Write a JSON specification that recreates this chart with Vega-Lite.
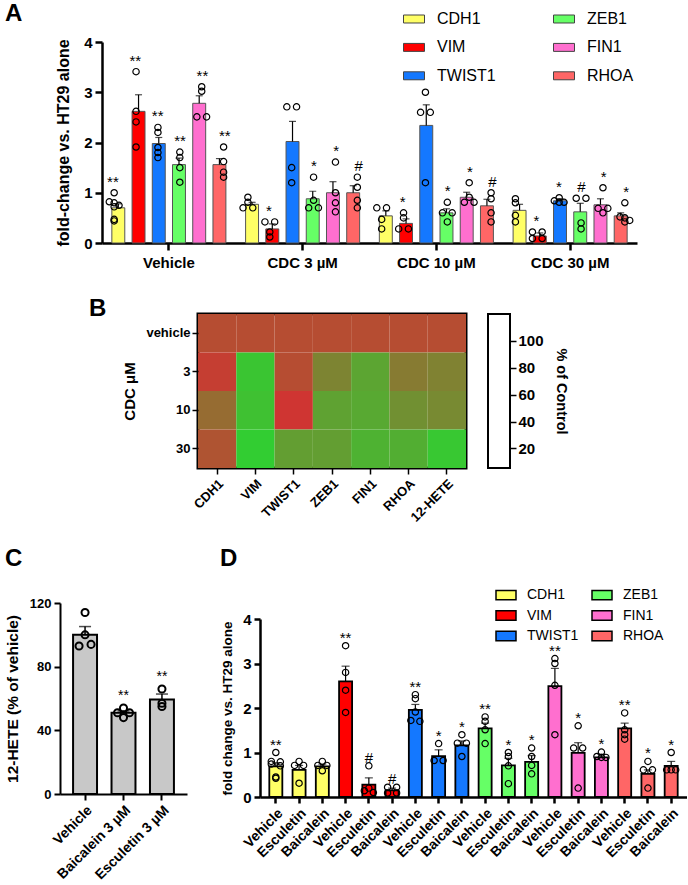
{
 "$schema": "https://vega.github.io/schema/vega-lite/v6.json",
 "background": "white",
 "padding": {"left": 5, "top": 2, "right": 0, "bottom": 0},
 "config": {
  "font": "Liberation Sans",
  "view": {"stroke": null},
  "axis": {"labelColor": "black", "titleColor": "black", "domainColor": "black", "tickColor": "black", "grid": false, "labelFontWeight": "bold", "titleFontWeight": "bold", "labelFont": "Liberation Sans", "titleFont": "Liberation Sans"},
  "title": {"color": "black", "font": "Liberation Sans"},
  "legend": {"labelColor": "black", "labelFont": "Liberation Sans"}
 },
 "datasets": {
  "A": [
   {"group": "Vehicle", "gene": "CDH1", "mean": 0.70, "sem": 0.08, "sig": "**"},
   {"group": "Vehicle", "gene": "VIM", "mean": 2.62, "sem": 0.33, "sig": "**"},
   {"group": "Vehicle", "gene": "TWIST1", "mean": 1.98, "sem": 0.12, "sig": "**"},
   {"group": "Vehicle", "gene": "ZEB1", "mean": 1.56, "sem": 0.13, "sig": "**"},
   {"group": "Vehicle", "gene": "FIN1", "mean": 2.78, "sem": 0.15, "sig": "**"},
   {"group": "Vehicle", "gene": "RHOA", "mean": 1.56, "sem": 0.12, "sig": "**"},
   {"group": "CDC 3 µM", "gene": "CDH1", "mean": 0.77, "sem": 0.04, "sig": ""},
   {"group": "CDC 3 µM", "gene": "VIM", "mean": 0.28, "sem": 0.10, "sig": "*"},
   {"group": "CDC 3 µM", "gene": "TWIST1", "mean": 2.02, "sem": 0.40, "sig": ""},
   {"group": "CDC 3 µM", "gene": "ZEB1", "mean": 0.88, "sem": 0.15, "sig": "*"},
   {"group": "CDC 3 µM", "gene": "FIN1", "mean": 1.00, "sem": 0.22, "sig": "*"},
   {"group": "CDC 3 µM", "gene": "RHOA", "mean": 1.00, "sem": 0.14, "sig": "#"},
   {"group": "CDC 10 µM", "gene": "CDH1", "mean": 0.54, "sem": 0.10, "sig": ""},
   {"group": "CDC 10 µM", "gene": "VIM", "mean": 0.39, "sem": 0.09, "sig": "*"},
   {"group": "CDC 10 µM", "gene": "TWIST1", "mean": 2.34, "sem": 0.41, "sig": ""},
   {"group": "CDC 10 µM", "gene": "ZEB1", "mean": 0.60, "sem": 0.08, "sig": "*"},
   {"group": "CDC 10 µM", "gene": "FIN1", "mean": 0.91, "sem": 0.10, "sig": "*"},
   {"group": "CDC 10 µM", "gene": "RHOA", "mean": 0.74, "sem": 0.13, "sig": "#"},
   {"group": "CDC 30 µM", "gene": "CDH1", "mean": 0.65, "sem": 0.12, "sig": ""},
   {"group": "CDC 30 µM", "gene": "VIM", "mean": 0.14, "sem": 0.06, "sig": "*"},
   {"group": "CDC 30 µM", "gene": "TWIST1", "mean": 0.84, "sem": 0.04, "sig": "*"},
   {"group": "CDC 30 µM", "gene": "ZEB1", "mean": 0.62, "sem": 0.17, "sig": "#"},
   {"group": "CDC 30 µM", "gene": "FIN1", "mean": 0.76, "sem": 0.12, "sig": "*"},
   {"group": "CDC 30 µM", "gene": "RHOA", "mean": 0.54, "sem": 0.06, "sig": "*"},
   {"group": "Vehicle", "gene": "CDH1", "v": 1.0}, {"group": "Vehicle", "gene": "CDH1", "v": 0.82}, {"group": "Vehicle", "gene": "CDH1", "v": 0.80}, {"group": "Vehicle", "gene": "CDH1", "v": 0.75}, {"group": "Vehicle", "gene": "CDH1", "v": 0.72}, {"group": "Vehicle", "gene": "CDH1", "v": 0.47}, {"group": "Vehicle", "gene": "CDH1", "v": 0.44},
   {"group": "Vehicle", "gene": "VIM", "v": 3.41}, {"group": "Vehicle", "gene": "VIM", "v": 2.62}, {"group": "Vehicle", "gene": "VIM", "v": 2.41}, {"group": "Vehicle", "gene": "VIM", "v": 1.91},
   {"group": "Vehicle", "gene": "TWIST1", "v": 2.30}, {"group": "Vehicle", "gene": "TWIST1", "v": 2.20}, {"group": "Vehicle", "gene": "TWIST1", "v": 1.90}, {"group": "Vehicle", "gene": "TWIST1", "v": 1.80}, {"group": "Vehicle", "gene": "TWIST1", "v": 1.70},
   {"group": "Vehicle", "gene": "ZEB1", "v": 1.81}, {"group": "Vehicle", "gene": "ZEB1", "v": 1.70}, {"group": "Vehicle", "gene": "ZEB1", "v": 1.50}, {"group": "Vehicle", "gene": "ZEB1", "v": 1.21},
   {"group": "Vehicle", "gene": "FIN1", "v": 3.11}, {"group": "Vehicle", "gene": "FIN1", "v": 3.02}, {"group": "Vehicle", "gene": "FIN1", "v": 2.51}, {"group": "Vehicle", "gene": "FIN1", "v": 2.51},
   {"group": "Vehicle", "gene": "RHOA", "v": 1.91}, {"group": "Vehicle", "gene": "RHOA", "v": 1.62}, {"group": "Vehicle", "gene": "RHOA", "v": 1.41}, {"group": "Vehicle", "gene": "RHOA", "v": 1.31},
   {"group": "CDC 3 µM", "gene": "CDH1", "v": 0.91}, {"group": "CDC 3 µM", "gene": "CDH1", "v": 0.81}, {"group": "CDC 3 µM", "gene": "CDH1", "v": 0.70}, {"group": "CDC 3 µM", "gene": "CDH1", "v": 0.70},
   {"group": "CDC 3 µM", "gene": "VIM", "v": 0.42}, {"group": "CDC 3 µM", "gene": "VIM", "v": 0.42}, {"group": "CDC 3 µM", "gene": "VIM", "v": 0.22}, {"group": "CDC 3 µM", "gene": "VIM", "v": 0.12},
   {"group": "CDC 3 µM", "gene": "TWIST1", "v": 2.71}, {"group": "CDC 3 µM", "gene": "TWIST1", "v": 2.71}, {"group": "CDC 3 µM", "gene": "TWIST1", "v": 1.50}, {"group": "CDC 3 µM", "gene": "TWIST1", "v": 1.20},
   {"group": "CDC 3 µM", "gene": "ZEB1", "v": 1.31}, {"group": "CDC 3 µM", "gene": "ZEB1", "v": 0.85}, {"group": "CDC 3 µM", "gene": "ZEB1", "v": 0.70}, {"group": "CDC 3 µM", "gene": "ZEB1", "v": 0.70},
   {"group": "CDC 3 µM", "gene": "FIN1", "v": 1.61}, {"group": "CDC 3 µM", "gene": "FIN1", "v": 1.00}, {"group": "CDC 3 µM", "gene": "FIN1", "v": 0.80}, {"group": "CDC 3 µM", "gene": "FIN1", "v": 0.62},
   {"group": "CDC 3 µM", "gene": "RHOA", "v": 1.31}, {"group": "CDC 3 µM", "gene": "RHOA", "v": 1.11}, {"group": "CDC 3 µM", "gene": "RHOA", "v": 0.85}, {"group": "CDC 3 µM", "gene": "RHOA", "v": 0.70},
   {"group": "CDC 10 µM", "gene": "CDH1", "v": 0.70}, {"group": "CDC 10 µM", "gene": "CDH1", "v": 0.70}, {"group": "CDC 10 µM", "gene": "CDH1", "v": 0.47}, {"group": "CDC 10 µM", "gene": "CDH1", "v": 0.28},
   {"group": "CDC 10 µM", "gene": "VIM", "v": 0.60}, {"group": "CDC 10 µM", "gene": "VIM", "v": 0.50}, {"group": "CDC 10 µM", "gene": "VIM", "v": 0.28}, {"group": "CDC 10 µM", "gene": "VIM", "v": 0.28},
   {"group": "CDC 10 µM", "gene": "TWIST1", "v": 3.00}, {"group": "CDC 10 µM", "gene": "TWIST1", "v": 2.60}, {"group": "CDC 10 µM", "gene": "TWIST1", "v": 2.60}, {"group": "CDC 10 µM", "gene": "TWIST1", "v": 1.20},
   {"group": "CDC 10 µM", "gene": "ZEB1", "v": 0.81}, {"group": "CDC 10 µM", "gene": "ZEB1", "v": 0.60}, {"group": "CDC 10 µM", "gene": "ZEB1", "v": 0.60}, {"group": "CDC 10 µM", "gene": "ZEB1", "v": 0.42},
   {"group": "CDC 10 µM", "gene": "FIN1", "v": 1.20}, {"group": "CDC 10 µM", "gene": "FIN1", "v": 0.91}, {"group": "CDC 10 µM", "gene": "FIN1", "v": 0.81}, {"group": "CDC 10 µM", "gene": "FIN1", "v": 0.81},
   {"group": "CDC 10 µM", "gene": "RHOA", "v": 1.00}, {"group": "CDC 10 µM", "gene": "RHOA", "v": 0.88}, {"group": "CDC 10 µM", "gene": "RHOA", "v": 0.60}, {"group": "CDC 10 µM", "gene": "RHOA", "v": 0.42},
   {"group": "CDC 30 µM", "gene": "CDH1", "v": 0.88}, {"group": "CDC 30 µM", "gene": "CDH1", "v": 0.80}, {"group": "CDC 30 µM", "gene": "CDH1", "v": 0.55}, {"group": "CDC 30 µM", "gene": "CDH1", "v": 0.42},
   {"group": "CDC 30 µM", "gene": "VIM", "v": 0.22}, {"group": "CDC 30 µM", "gene": "VIM", "v": 0.22}, {"group": "CDC 30 µM", "gene": "VIM", "v": 0.09}, {"group": "CDC 30 µM", "gene": "VIM", "v": 0.09},
   {"group": "CDC 30 µM", "gene": "TWIST1", "v": 0.90}, {"group": "CDC 30 µM", "gene": "TWIST1", "v": 0.84}, {"group": "CDC 30 µM", "gene": "TWIST1", "v": 0.81}, {"group": "CDC 30 µM", "gene": "TWIST1", "v": 0.81},
   {"group": "CDC 30 µM", "gene": "ZEB1", "v": 0.89}, {"group": "CDC 30 µM", "gene": "ZEB1", "v": 0.89}, {"group": "CDC 30 µM", "gene": "ZEB1", "v": 0.40}, {"group": "CDC 30 µM", "gene": "ZEB1", "v": 0.28},
   {"group": "CDC 30 µM", "gene": "FIN1", "v": 1.10}, {"group": "CDC 30 µM", "gene": "FIN1", "v": 0.69}, {"group": "CDC 30 µM", "gene": "FIN1", "v": 0.69}, {"group": "CDC 30 µM", "gene": "FIN1", "v": 0.60},
   {"group": "CDC 30 µM", "gene": "RHOA", "v": 0.80}, {"group": "CDC 30 µM", "gene": "RHOA", "v": 0.52}, {"group": "CDC 30 µM", "gene": "RHOA", "v": 0.50}, {"group": "CDC 30 µM", "gene": "RHOA", "v": 0.45}, {"group": "CDC 30 µM", "gene": "RHOA", "v": 0.42}
  ],
  "B": [
   {"dose": "vehicle", "gene": "CDH1", "pct": 100}, {"dose": "vehicle", "gene": "VIM", "pct": 100}, {"dose": "vehicle", "gene": "TWIST1", "pct": 100}, {"dose": "vehicle", "gene": "ZEB1", "pct": 100}, {"dose": "vehicle", "gene": "FIN1", "pct": 100}, {"dose": "vehicle", "gene": "RHOA", "pct": 100}, {"dose": "vehicle", "gene": "12-HETE", "pct": 100},
   {"dose": "3", "gene": "CDH1", "pct": 111}, {"dose": "3", "gene": "VIM", "pct": 11}, {"dose": "3", "gene": "TWIST1", "pct": 100}, {"dose": "3", "gene": "ZEB1", "pct": 59}, {"dose": "3", "gene": "FIN1", "pct": 35}, {"dose": "3", "gene": "RHOA", "pct": 66}, {"dose": "3", "gene": "12-HETE", "pct": 61},
   {"dose": "10", "gene": "CDH1", "pct": 77}, {"dose": "10", "gene": "VIM", "pct": 14}, {"dose": "10", "gene": "TWIST1", "pct": 118}, {"dose": "10", "gene": "ZEB1", "pct": 37}, {"dose": "10", "gene": "FIN1", "pct": 32}, {"dose": "10", "gene": "RHOA", "pct": 50}, {"dose": "10", "gene": "12-HETE", "pct": 55},
   {"dose": "30", "gene": "CDH1", "pct": 95}, {"dose": "30", "gene": "VIM", "pct": 5}, {"dose": "30", "gene": "TWIST1", "pct": 40}, {"dose": "30", "gene": "ZEB1", "pct": 40}, {"dose": "30", "gene": "FIN1", "pct": 25}, {"dose": "30", "gene": "RHOA", "pct": 28}, {"dose": "30", "gene": "12-HETE", "pct": 9}
  ],
  "C": [
   {"trt": "Vehicle", "mean": 100, "sem": 5.2, "sig": ""},
   {"trt": "Baicalein 3 µM", "mean": 51, "sem": 1.2, "sig": "**"},
   {"trt": "Esculetin 3 µM", "mean": 59.3, "sem": 3.5, "sig": "**"},
   {"trt": "Vehicle", "v": 114}, {"trt": "Vehicle", "v": 100}, {"trt": "Vehicle", "v": 93}, {"trt": "Vehicle", "v": 94},
   {"trt": "Baicalein 3 µM", "v": 54}, {"trt": "Baicalein 3 µM", "v": 48}, {"trt": "Baicalein 3 µM", "v": 51}, {"trt": "Baicalein 3 µM", "v": 51},
   {"trt": "Esculetin 3 µM", "v": 66}, {"trt": "Esculetin 3 µM", "v": 57}, {"trt": "Esculetin 3 µM", "v": 55}
  ],
  "D": [
   {"gene": "CDH1", "trt": "Vehicle", "mean": 0.69, "sem": 0.08, "sig": "**"},
   {"gene": "CDH1", "trt": "Esculetin", "mean": 0.61, "sem": 0.10, "sig": ""},
   {"gene": "CDH1", "trt": "Baicalein", "mean": 0.69, "sem": 0.05, "sig": ""},
   {"gene": "VIM", "trt": "Vehicle", "mean": 2.60, "sem": 0.34, "sig": "**"},
   {"gene": "VIM", "trt": "Esculetin", "mean": 0.28, "sem": 0.15, "sig": "#"},
   {"gene": "VIM", "trt": "Baicalein", "mean": 0.15, "sem": 0.05, "sig": "#"},
   {"gene": "TWIST1", "trt": "Vehicle", "mean": 1.96, "sem": 0.12, "sig": "**"},
   {"gene": "TWIST1", "trt": "Esculetin", "mean": 0.92, "sem": 0.14, "sig": "*"},
   {"gene": "TWIST1", "trt": "Baicalein", "mean": 1.16, "sem": 0.10, "sig": "*"},
   {"gene": "ZEB1", "trt": "Vehicle", "mean": 1.54, "sem": 0.12, "sig": "**"},
   {"gene": "ZEB1", "trt": "Esculetin", "mean": 0.71, "sem": 0.16, "sig": "*"},
   {"gene": "ZEB1", "trt": "Baicalein", "mean": 0.79, "sem": 0.14, "sig": "*"},
   {"gene": "FIN1", "trt": "Vehicle", "mean": 2.49, "sem": 0.40, "sig": "**"},
   {"gene": "FIN1", "trt": "Esculetin", "mean": 0.99, "sem": 0.23, "sig": "*"},
   {"gene": "FIN1", "trt": "Baicalein", "mean": 0.89, "sem": 0.07, "sig": "*"},
   {"gene": "RHOA", "trt": "Vehicle", "mean": 1.54, "sem": 0.12, "sig": "**"},
   {"gene": "RHOA", "trt": "Esculetin", "mean": 0.52, "sem": 0.09, "sig": "*"},
   {"gene": "RHOA", "trt": "Baicalein", "mean": 0.70, "sem": 0.10, "sig": "*"},
   {"gene": "CDH1", "trt": "Vehicle", "v": 1.0}, {"gene": "CDH1", "trt": "Vehicle", "v": 0.80}, {"gene": "CDH1", "trt": "Vehicle", "v": 0.79}, {"gene": "CDH1", "trt": "Vehicle", "v": 0.74}, {"gene": "CDH1", "trt": "Vehicle", "v": 0.70}, {"gene": "CDH1", "trt": "Vehicle", "v": 0.45}, {"gene": "CDH1", "trt": "Vehicle", "v": 0.42},
   {"gene": "CDH1", "trt": "Esculetin", "v": 0.80}, {"gene": "CDH1", "trt": "Esculetin", "v": 0.71}, {"gene": "CDH1", "trt": "Esculetin", "v": 0.71}, {"gene": "CDH1", "trt": "Esculetin", "v": 0.31},
   {"gene": "CDH1", "trt": "Baicalein", "v": 0.80}, {"gene": "CDH1", "trt": "Baicalein", "v": 0.71}, {"gene": "CDH1", "trt": "Baicalein", "v": 0.71}, {"gene": "CDH1", "trt": "Baicalein", "v": 0.59},
   {"gene": "VIM", "trt": "Vehicle", "v": 3.40}, {"gene": "VIM", "trt": "Vehicle", "v": 2.80}, {"gene": "VIM", "trt": "Vehicle", "v": 2.40}, {"gene": "VIM", "trt": "Vehicle", "v": 1.90},
   {"gene": "VIM", "trt": "Esculetin", "v": 0.70}, {"gene": "VIM", "trt": "Esculetin", "v": 0.20}, {"gene": "VIM", "trt": "Esculetin", "v": 0.14}, {"gene": "VIM", "trt": "Esculetin", "v": 0.10},
   {"gene": "VIM", "trt": "Baicalein", "v": 0.22}, {"gene": "VIM", "trt": "Baicalein", "v": 0.22}, {"gene": "VIM", "trt": "Baicalein", "v": 0.09}, {"gene": "VIM", "trt": "Baicalein", "v": 0.09},
   {"gene": "TWIST1", "trt": "Vehicle", "v": 2.30}, {"gene": "TWIST1", "trt": "Vehicle", "v": 2.21}, {"gene": "TWIST1", "trt": "Vehicle", "v": 1.91}, {"gene": "TWIST1", "trt": "Vehicle", "v": 1.72}, {"gene": "TWIST1", "trt": "Vehicle", "v": 1.70},
   {"gene": "TWIST1", "trt": "Esculetin", "v": 1.20}, {"gene": "TWIST1", "trt": "Esculetin", "v": 0.82}, {"gene": "TWIST1", "trt": "Esculetin", "v": 0.82},
   {"gene": "TWIST1", "trt": "Baicalein", "v": 1.40}, {"gene": "TWIST1", "trt": "Baicalein", "v": 1.21}, {"gene": "TWIST1", "trt": "Baicalein", "v": 1.21}, {"gene": "TWIST1", "trt": "Baicalein", "v": 0.91},
   {"gene": "ZEB1", "trt": "Vehicle", "v": 1.80}, {"gene": "ZEB1", "trt": "Vehicle", "v": 1.70}, {"gene": "ZEB1", "trt": "Vehicle", "v": 1.51}, {"gene": "ZEB1", "trt": "Vehicle", "v": 1.20},
   {"gene": "ZEB1", "trt": "Esculetin", "v": 1.00}, {"gene": "ZEB1", "trt": "Esculetin", "v": 0.91}, {"gene": "ZEB1", "trt": "Esculetin", "v": 0.70}, {"gene": "ZEB1", "trt": "Esculetin", "v": 0.30},
   {"gene": "ZEB1", "trt": "Baicalein", "v": 1.10}, {"gene": "ZEB1", "trt": "Baicalein", "v": 0.91}, {"gene": "ZEB1", "trt": "Baicalein", "v": 0.71}, {"gene": "ZEB1", "trt": "Baicalein", "v": 0.52},
   {"gene": "FIN1", "trt": "Vehicle", "v": 3.11}, {"gene": "FIN1", "trt": "Vehicle", "v": 3.00}, {"gene": "FIN1", "trt": "Vehicle", "v": 2.51}, {"gene": "FIN1", "trt": "Vehicle", "v": 1.40},
   {"gene": "FIN1", "trt": "Esculetin", "v": 1.60}, {"gene": "FIN1", "trt": "Esculetin", "v": 1.10}, {"gene": "FIN1", "trt": "Esculetin", "v": 1.10}, {"gene": "FIN1", "trt": "Esculetin", "v": 0.20},
   {"gene": "FIN1", "trt": "Baicalein", "v": 1.01}, {"gene": "FIN1", "trt": "Baicalein", "v": 0.91}, {"gene": "FIN1", "trt": "Baicalein", "v": 0.89}, {"gene": "FIN1", "trt": "Baicalein", "v": 0.89},
   {"gene": "RHOA", "trt": "Vehicle", "v": 1.89}, {"gene": "RHOA", "trt": "Vehicle", "v": 1.51}, {"gene": "RHOA", "trt": "Vehicle", "v": 1.40}, {"gene": "RHOA", "trt": "Vehicle", "v": 1.30},
   {"gene": "RHOA", "trt": "Esculetin", "v": 0.80}, {"gene": "RHOA", "trt": "Esculetin", "v": 0.61}, {"gene": "RHOA", "trt": "Esculetin", "v": 0.61}, {"gene": "RHOA", "trt": "Esculetin", "v": 0.20},
   {"gene": "RHOA", "trt": "Baicalein", "v": 1.00}, {"gene": "RHOA", "trt": "Baicalein", "v": 0.61}, {"gene": "RHOA", "trt": "Baicalein", "v": 0.61}, {"gene": "RHOA", "trt": "Baicalein", "v": 0.61}
  ]
 },
 "resolve": {"scale": {"color": "independent"}, "legend": {"color": "independent"}},
 "columns": 1,
 "align": "none",
 "spacing": 25,
 "concat": [
  {
   "width": 577, "height": 201,
   "title": {"text": "A", "anchor": "start", "frame": "group", "dx": -55, "fontSize": 24, "fontWeight": "bold", "offset": -18},
   "data": {"name": "A"},
   "encoding": {
    "x": {"field": "group", "type": "nominal", "scale": {"domain": ["Vehicle", "CDC 3 µM", "CDC 10 µM", "CDC 30 µM"], "range": [42, 577], "paddingInner": 0, "paddingOuter": 0}, "axis": {"title": null, "labelAngle": 0, "labelFontSize": 15, "domainWidth": 2.5, "tickWidth": 2.5, "tickSize": 7, "labelPadding": 5}}
   },
   "resolve": {"scale": {"xOffset": "independent"}},
   "layer": [
    {
     "transform": [{"filter": "isValid(datum.mean)"}],
     "mark": {"type": "bar", "stroke": "#555", "strokeWidth": 1},
     "encoding": {
      "xOffset": {"field": "gene", "type": "nominal", "scale": {"domain": ["CDH1", "VIM", "TWIST1", "ZEB1", "FIN1", "RHOA"], "paddingInner": 0.36, "paddingOuter": 0.487}},
      "y": {"field": "mean", "type": "quantitative", "scale": {"domain": [0, 4], "nice": false}, "axis": {"title": "fold-change vs. HT29 alone", "values": [0, 1, 2, 3, 4], "format": "d", "offset": -42, "labelFontSize": 15, "titleFontSize": 16, "domainWidth": 2.5, "tickWidth": 2.5, "tickSize": 7, "labelPadding": 3, "titlePadding": 12}},
      "color": {"field": "gene", "type": "nominal", "scale": {"domain": ["CDH1", "VIM", "TWIST1", "ZEB1", "FIN1", "RHOA"], "range": ["#FFFF66", "#FF0000", "#1478FF", "#66FF66", "#FF6FCF", "#FF6666"]},
       "legend": {"title": null, "orient": "none", "legendX": 343, "legendY": -34, "columns": 2, "symbolType": "M-1,-0.38H1V0.38H-1Z", "symbolSize": 441, "symbolStrokeColor": "#444", "symbolStrokeWidth": 1, "labelFontSize": 16, "labelOffset": 12, "columnPadding": 55, "rowPadding": 9.4}}
     }
    },
    {
     "transform": [{"filter": "isValid(datum.mean)"}, {"calculate": "datum.mean + datum.sem", "as": "hi"}],
     "mark": {"type": "rule", "color": "black", "strokeWidth": 1.2},
     "encoding": {"xOffset": {"field": "gene", "type": "nominal", "scale": {"domain": ["CDH1", "VIM", "TWIST1", "ZEB1", "FIN1", "RHOA"], "paddingInner": 0.36, "paddingOuter": 0.487}}, "y": {"field": "mean", "type": "quantitative"}, "y2": {"field": "hi"}}
    },
    {
     "transform": [{"filter": "isValid(datum.mean)"}, {"calculate": "datum.mean + datum.sem", "as": "hi"}],
     "mark": {"type": "tick", "orient": "horizontal", "color": "black", "size": 7, "thickness": 1.2},
     "encoding": {"xOffset": {"field": "gene", "type": "nominal", "scale": {"domain": ["CDH1", "VIM", "TWIST1", "ZEB1", "FIN1", "RHOA"], "paddingInner": 0.36, "paddingOuter": 0.487}}, "y": {"field": "hi", "type": "quantitative"}}
    },
    {
     "transform": [
      {"filter": "isValid(datum.v)"},
      {"calculate": "round(datum.v * 10)", "as": "vb"},
      {"window": [{"op": "row_number", "as": "r"}, {"op": "count", "as": "cnt"}], "groupby": ["group", "gene", "vb"], "frame": [null, null]},
      {"calculate": "datum.gene + '|' + (2 * (datum.cnt == 1 ? 0 : (datum.cnt == 2 ? (datum.r == 1 ? -1 : 1) : ((datum.r - 1) % 3) - 1)))", "as": "key"}
     ],
     "mark": {"type": "point", "shape": "circle", "filled": false, "stroke": "black", "strokeWidth": 1.2, "size": 40, "opacity": 1},
     "encoding": {
      "xOffset": {"field": "key", "type": "nominal", "scale": {"type": "point", "padding": 3.26, "domain": ["CDH1|-4", "CDH1|-3", "CDH1|-2", "CDH1|-1", "CDH1|0", "CDH1|1", "CDH1|2", "CDH1|3", "CDH1|4", "VIM|-4", "VIM|-3", "VIM|-2", "VIM|-1", "VIM|0", "VIM|1", "VIM|2", "VIM|3", "VIM|4", "TWIST1|-4", "TWIST1|-3", "TWIST1|-2", "TWIST1|-1", "TWIST1|0", "TWIST1|1", "TWIST1|2", "TWIST1|3", "TWIST1|4", "ZEB1|-4", "ZEB1|-3", "ZEB1|-2", "ZEB1|-1", "ZEB1|0", "ZEB1|1", "ZEB1|2", "ZEB1|3", "ZEB1|4", "FIN1|-4", "FIN1|-3", "FIN1|-2", "FIN1|-1", "FIN1|0", "FIN1|1", "FIN1|2", "FIN1|3", "FIN1|4", "RHOA|-4", "RHOA|-3", "RHOA|-2", "RHOA|-1", "RHOA|0", "RHOA|1", "RHOA|2", "RHOA|3", "RHOA|4"]}},
      "y": {"field": "v", "type": "quantitative"}
     }
    },
    {
     "transform": [{"joinaggregate": [{"op": "max", "field": "v", "as": "pmax"}], "groupby": ["group", "gene"]}, {"filter": "datum.sig"}, {"calculate": "max(datum.mean + datum.sem, datum.pmax)", "as": "top"}],
     "mark": {"type": "text", "baseline": "middle", "dy": -11, "fontSize": 15, "color": "black", "fill": "black"},
     "encoding": {"xOffset": {"field": "gene", "type": "nominal", "scale": {"domain": ["CDH1", "VIM", "TWIST1", "ZEB1", "FIN1", "RHOA"], "paddingInner": 0.36, "paddingOuter": 0.487}}, "y": {"field": "top", "type": "quantitative"}, "text": {"field": "sig"}}
    }
   ]
  },
  {
   "concat": [
    {
     "hconcat": [
      {"width": 8, "height": 154, "data": {"values": [{}]}, "mark": {"type": "point", "opacity": 0}},
      {
       "width": 268, "height": 154,
       "view": {"stroke": "black", "strokeWidth": 3},
       "title": {"text": "B", "anchor": "start", "frame": "group", "dx": -109, "fontSize": 24, "fontWeight": "bold", "offset": -7},
       "data": {"name": "B"},
       "mark": {"type": "rect"},
       "encoding": {
        "x": {"field": "gene", "type": "nominal", "sort": ["CDH1", "VIM", "TWIST1", "ZEB1", "FIN1", "RHOA", "12-HETE"], "scale": {"paddingInner": 0, "paddingOuter": 0}, "axis": {"title": null, "labelAngle": -45, "labelFontSize": 13, "domain": false, "tickWidth": 1.5, "tickSize": 6, "labelPadding": 3}},
        "y": {"field": "dose", "type": "nominal", "sort": ["vehicle", "3", "10", "30"], "scale": {"paddingInner": 0, "paddingOuter": 0}, "axis": {"title": "CDC μM", "labelFontSize": 13, "titleFontSize": 15, "domain": false, "tickWidth": 1.5, "tickSize": 6, "labelAngle": 0, "titlePadding": 8}},
        "color": {"field": "pct", "type": "quantitative", "scale": {"domain": [5, 120], "range": ["#32CD32", "#D23232"], "interpolate": "rgb", "clamp": true}, "legend": null}
       }
      },
      {
       "width": 22, "height": 154,
       "view": {"stroke": "black", "strokeWidth": 2, "fill": "white"},
       "data": {"values": [{"p": 20}, {"p": 100}]},
       "mark": {"type": "point", "opacity": 0},
       "encoding": {"y": {"field": "p", "type": "quantitative", "scale": {"domain": [5.5, 120], "nice": false, "zero": false}, "axis": {"orient": "right", "values": [20, 40, 60, 80, 100], "title": "% of Control", "titleAngle": 90, "labelFontSize": 15, "titleFontSize": 14.5, "domain": false, "tickWidth": 1.5, "tickSize": 6, "titlePadding": 10}}}
      }
     ],
     "spacing": 19,
     "resolve": {"scale": {"color": "independent"}, "legend": {"color": "independent"}}
    },
    {
     "concat": [
      {
       "width": 127, "height": 191,
       "title": {"text": "C", "anchor": "start", "frame": "group", "dx": -55, "fontSize": 24, "fontWeight": "bold", "offset": 26},
       "data": {"name": "C"},
       "encoding": {
        "x": {"field": "trt", "type": "nominal", "scale": {"domain": ["Vehicle", "Baicalein 3 µM", "Esculetin 3 µM"], "paddingInner": 0.377, "paddingOuter": 0.34}, "axis": {"title": null, "labelAngle": -45, "labelFontSize": 14, "domainWidth": 2, "tickWidth": 2, "tickSize": 6, "labelPadding": 3}}
       },
       "resolve": {"scale": {"xOffset": "independent"}},
       "layer": [
        {
         "transform": [{"filter": "isValid(datum.mean)"}],
         "mark": {"type": "bar", "fill": "#C8C8C8", "stroke": "black", "strokeWidth": 2},
         "encoding": {"y": {"field": "mean", "type": "quantitative", "scale": {"domain": [0, 120], "nice": false}, "axis": {"title": "12-HETE (% of vehicle)", "values": [0, 20, 40, 60, 80, 100, 120], "format": "d", "labelFontSize": 13, "titleFontSize": 15.5, "domainWidth": 2, "tickWidth": 2, "tickSize": 6, "labelPadding": 3, "titlePadding": 9}}}
        },
        {
         "transform": [{"filter": "isValid(datum.mean)"}, {"calculate": "datum.mean + datum.sem", "as": "hi"}],
         "mark": {"type": "rule", "color": "black", "strokeWidth": 1.5},
         "encoding": {"y": {"field": "mean", "type": "quantitative"}, "y2": {"field": "hi"}}
        },
        {
         "transform": [{"filter": "isValid(datum.mean)"}, {"calculate": "datum.mean + datum.sem", "as": "hi"}],
         "mark": {"type": "tick", "orient": "horizontal", "color": "black", "size": 12, "thickness": 1.5},
         "encoding": {"y": {"field": "hi", "type": "quantitative"}}
        },
        {
         "transform": [
          {"filter": "isValid(datum.v)"},
          {"calculate": "round(datum.v / 3)", "as": "vb"},
          {"window": [{"op": "row_number", "as": "r"}, {"op": "count", "as": "cnt"}], "groupby": ["trt", "vb"], "frame": [null, null]},
          {"calculate": "datum.cnt == 1 ? 0 : (datum.cnt == 2 ? (datum.r == 1 ? -1 : 1) : ((datum.r - 1) % 3) - 1)", "as": "slot"}
         ],
         "mark": {"type": "point", "shape": "circle", "filled": false, "stroke": "black", "strokeWidth": 2, "size": 50, "opacity": 1},
         "encoding": {"xOffset": {"field": "slot", "type": "nominal", "scale": {"type": "point", "domain": [-1, 0, 1], "padding": 1}}, "y": {"field": "v", "type": "quantitative"}}
        },
        {
         "transform": [{"joinaggregate": [{"op": "max", "field": "v", "as": "pmax"}], "groupby": ["trt"]}, {"filter": "datum.sig"}, {"calculate": "max(datum.mean + datum.sem, datum.pmax)", "as": "top"}],
         "mark": {"type": "text", "baseline": "middle", "dy": -12, "fontSize": 14, "color": "black", "fill": "black"},
         "encoding": {"y": {"field": "top", "type": "quantitative"}, "text": {"field": "sig"}}
        }
       ]
      },
      {
       "width": 427, "height": 194,
       "title": {"text": "D", "anchor": "start", "frame": "group", "dx": -40, "fontSize": 24, "fontWeight": "bold", "offset": 13},
       "data": {"name": "D"},
       "transform": [{"calculate": "datum.gene + '|' + datum.trt", "as": "id"}],
       "encoding": {
        "x": {"field": "id", "type": "nominal", "scale": {"domain": ["CDH1|Vehicle", "CDH1|Esculetin", "CDH1|Baicalein", "VIM|Vehicle", "VIM|Esculetin", "VIM|Baicalein", "TWIST1|Vehicle", "TWIST1|Esculetin", "TWIST1|Baicalein", "ZEB1|Vehicle", "ZEB1|Esculetin", "ZEB1|Baicalein", "FIN1|Vehicle", "FIN1|Esculetin", "FIN1|Baicalein", "RHOA|Vehicle", "RHOA|Esculetin", "RHOA|Baicalein"], "paddingInner": 0.44, "paddingOuter": 0.4}, "axis": {"title": null, "labelAngle": -45, "labelExpr": "split(datum.value, '|')[1]", "labelFontSize": 14, "domainWidth": 2.5, "tickWidth": 2.5, "tickSize": 6, "labelPadding": 3}}
       },
       "resolve": {"scale": {"xOffset": "independent"}},
       "layer": [
        {
         "transform": [{"filter": "isValid(datum.mean)"}],
         "mark": {"type": "bar", "stroke": "black", "strokeWidth": 1.8},
         "encoding": {
          "y": {"field": "mean", "type": "quantitative", "scale": {"domain": [0, 4], "nice": false, "range": [194, 16]}, "axis": {"title": "fold change vs. HT29 alone", "values": [0, 1, 2, 3, 4], "format": "d", "labelFontSize": 15, "titleFontSize": 13.5, "domainWidth": 2.5, "tickWidth": 2.5, "tickSize": 6, "labelPadding": 3, "titlePadding": 8}},
          "color": {"field": "gene", "type": "nominal", "scale": {"domain": ["CDH1", "VIM", "TWIST1", "ZEB1", "FIN1", "RHOA"], "range": ["#FFFF66", "#FF0000", "#1478FF", "#66FF66", "#FF6FCF", "#FF6666"]},
           "legend": {"title": null, "orient": "none", "legendX": 235, "legendY": -19, "columns": 2, "symbolType": "M-1,-0.47H1V0.47H-1Z", "symbolSize": 400, "symbolStrokeColor": "black", "symbolStrokeWidth": 1.5, "labelFontSize": 14, "labelOffset": 10, "columnPadding": 10, "rowPadding": 1.5}}
         }
        },
        {
         "transform": [{"filter": "isValid(datum.mean)"}, {"calculate": "datum.mean + datum.sem", "as": "hi"}],
         "mark": {"type": "rule", "color": "black", "strokeWidth": 1.2},
         "encoding": {"y": {"field": "mean", "type": "quantitative"}, "y2": {"field": "hi"}}
        },
        {
         "transform": [{"filter": "isValid(datum.mean)"}, {"calculate": "datum.mean + datum.sem", "as": "hi"}],
         "mark": {"type": "tick", "orient": "horizontal", "color": "black", "size": 8, "thickness": 1.2},
         "encoding": {"y": {"field": "hi", "type": "quantitative"}}
        },
        {
         "transform": [
          {"filter": "isValid(datum.v)"},
          {"calculate": "round(datum.v * 10)", "as": "vb"},
          {"window": [{"op": "row_number", "as": "r"}, {"op": "count", "as": "cnt"}], "groupby": ["id", "vb"], "frame": [null, null]},
          {"calculate": "datum.cnt == 1 ? 0 : (datum.cnt == 2 ? (datum.r == 1 ? -1 : 1) : ((datum.r - 1) % 3) - 1)", "as": "slot"}
         ],
         "mark": {"type": "point", "shape": "circle", "filled": false, "stroke": "black", "strokeWidth": 1.2, "size": 40, "opacity": 1},
         "encoding": {"xOffset": {"field": "slot", "type": "nominal", "scale": {"type": "point", "domain": [-1, 0, 1], "padding": 0.444}}, "y": {"field": "v", "type": "quantitative"}}
        },
        {
         "transform": [{"joinaggregate": [{"op": "max", "field": "v", "as": "pmax"}], "groupby": ["id"]}, {"filter": "datum.sig"}, {"calculate": "max(datum.mean + datum.sem, datum.pmax)", "as": "top"}],
         "mark": {"type": "text", "baseline": "middle", "dy": -8, "fontSize": 15, "color": "black", "fill": "black"},
         "encoding": {"y": {"field": "top", "type": "quantitative"}, "text": {"field": "sig"}}
        }
       ]
      }
     ],
     "columns": 2,
     "align": "none",
     "spacing": 33,
     "resolve": {"scale": {"color": "independent"}, "legend": {"color": "independent"}}
    }
   ],
   "columns": 1,
   "align": "none",
   "spacing": 21,
   "resolve": {"scale": {"color": "independent"}, "legend": {"color": "independent"}}
  }
 ]
}
